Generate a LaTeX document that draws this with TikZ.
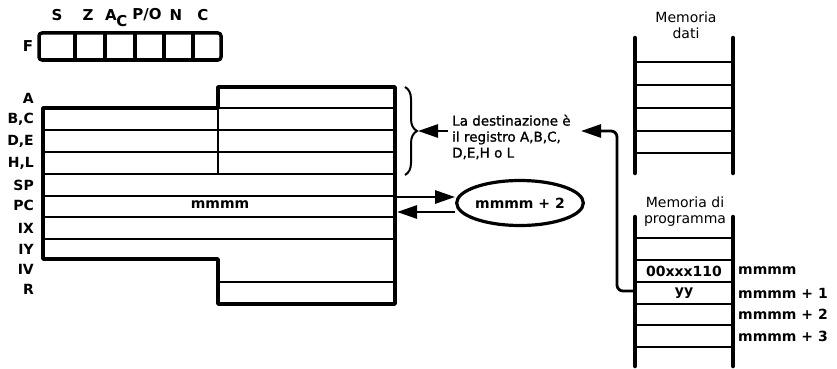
\documentclass[tikz,border=0pt]{standalone}
\usepackage{fontspec}
\setmainfont{DejaVu Sans}
\newfontfamily\medfont[FakeBold=1.2]{DejaVu Sans}
\usetikzlibrary{arrows.meta,decorations.pathreplacing,shapes.geometric}
\begin{document}
\begin{tikzpicture}[x=1pt,y=-1pt,
 bx/.style={font=\fontsize{14}{16}\selectfont\bfseries, inner sep=0pt},
 fl/.style={font=\fontsize{15}{17}\selectfont\bfseries, inner sep=0pt},
 rg/.style={font=\fontsize{14}{16}\selectfont, inner sep=0pt},
 reglbl/.style={bx, anchor=east},
 addr/.style={bx, anchor=west},
 outl/.style={line width=3.5pt, line join=round},
 rowl/.style={line width=2pt},
 rail/.style={line width=4.5pt, line cap=round},
 arr/.style={line width=2.8pt, -{Triangle[length=20pt,width=13pt]}},
]
\useasboundingbox (0,0) rectangle (837,369);

% ---- flag register
\node[fl] (fS) at (57,15) {S};
\node[fl] (fZ) at (88,15) {Z};
\node[fl] (fA) at (111,15) {A};
\node[fl] (fAc) at (122,21) {C};
\node[fl] (fP) at (147,15) {P/O};
\node[fl] (fN) at (176,15) {N};
\node[fl] (fC) at (203,15) {C};
\node[fl] (fF) at (28,46) {F};
\draw[outl, rounded corners=3pt] (39,33) rectangle (221,60);
\foreach \x in {75,105,135,164,193} \draw[line width=3.2pt] (\x,33) -- (\x,60);

% ---- register file
\draw[outl] (218,87) -- (395,87) -- (395,304) -- (218,304) -- (218,259)
  -- (43,259) -- (43,108) -- (218,108) -- cycle;
\draw[rowl] (218,108) -- (395,108);
\foreach \y in {130.4,152.1,173.8,195.5,217.2,238.9}
  \draw[rowl] (43,\y) -- (395,\y);
\draw[rowl] (218,281.5) -- (395,281.5);
\draw[line width=2.5pt] (218,108) -- (218,173.8);

\node[reglbl] (rA)  at (34,98)  {A};
\node[reglbl] (rBC) at (34,119) {B,C};
\node[reglbl] (rDE) at (34,141) {D,E};
\node[reglbl] (rHL) at (34,163) {H,L};
\node[reglbl] (rSP) at (34,185) {SP};
\node[reglbl] (rPC) at (34,205) {PC};
\node[reglbl] (rIX) at (34,228) {IX};
\node[reglbl] (rIY) at (34,249) {IY};
\node[reglbl] (rIV) at (34,269) {IV};
\node[reglbl] (rR)  at (34,289) {R};
\node[bx] (pcval) at (220,205) {mmmm};

% ---- brace and destination text
\draw[line width=2pt, decorate, decoration={brace, amplitude=12pt}] (405,87) -- (405,175);
\coordinate (braceTip) at (418,131);
\node[font=\fontsize{13.5}{16}\medfont, inner sep=0pt, anchor=west, align=left] (dest) at (452,137)
  {La destinazione è\\il registro A,B,C,\\D,E,H o L};
\coordinate (destW) at (448,131);
\draw[arr] (destW) -- (braceTip);

% ---- PC + 2
\node[ellipse, draw, line width=3.2pt, minimum width=113pt, minimum height=45pt, bx] (ell) at (520,203) {mmmm + 2};
\coordinate (pcA) at (397,197);
\coordinate (pcB) at (397,212);
\draw[arr] (pcA) -- (pcA -| ell.west);
\draw[arr] (pcB -| ell.west) -- (pcB);

% ---- data memory
\node[rg, align=center] (mdat) at (686,25) {Memoria\\dati};
\draw[rail] (635,38) -- (635,173);
\draw[rail] (733,38) -- (733,173);
\foreach \y in {62,85,108,131,153} \draw[rowl] (635,\y) -- (733,\y);

% ---- program memory
\node[rg, align=center] (mprog) at (685,212) {Memoria di\\programma};
\draw[rail] (635,217) -- (635,366);
\draw[rail] (733,217) -- (733,366);
\foreach \y in {238,260,282,304,325,347} \draw[rowl] (635,\y) -- (733,\y);
\node[bx] (op) at (684,271) {00xxx110};
\node[bx] (yy) at (684,293) {yy};
\node[addr] (a0) at (738,271) {mmmm};
\node[addr] (a1) at (738,293) {mmmm + 1};
\node[addr] (a2) at (738,314) {mmmm + 2};
\node[addr] (a3) at (738,336) {mmmm + 3};

% ---- connector from program memory to destination
\coordinate (yyW) at (633,291);
\coordinate (turn) at (617,131);
\coordinate (destE) at (581,131);
\draw[arr, rounded corners=6pt] (yyW) -| (turn) -- (destE);
\end{tikzpicture}
\end{document}
